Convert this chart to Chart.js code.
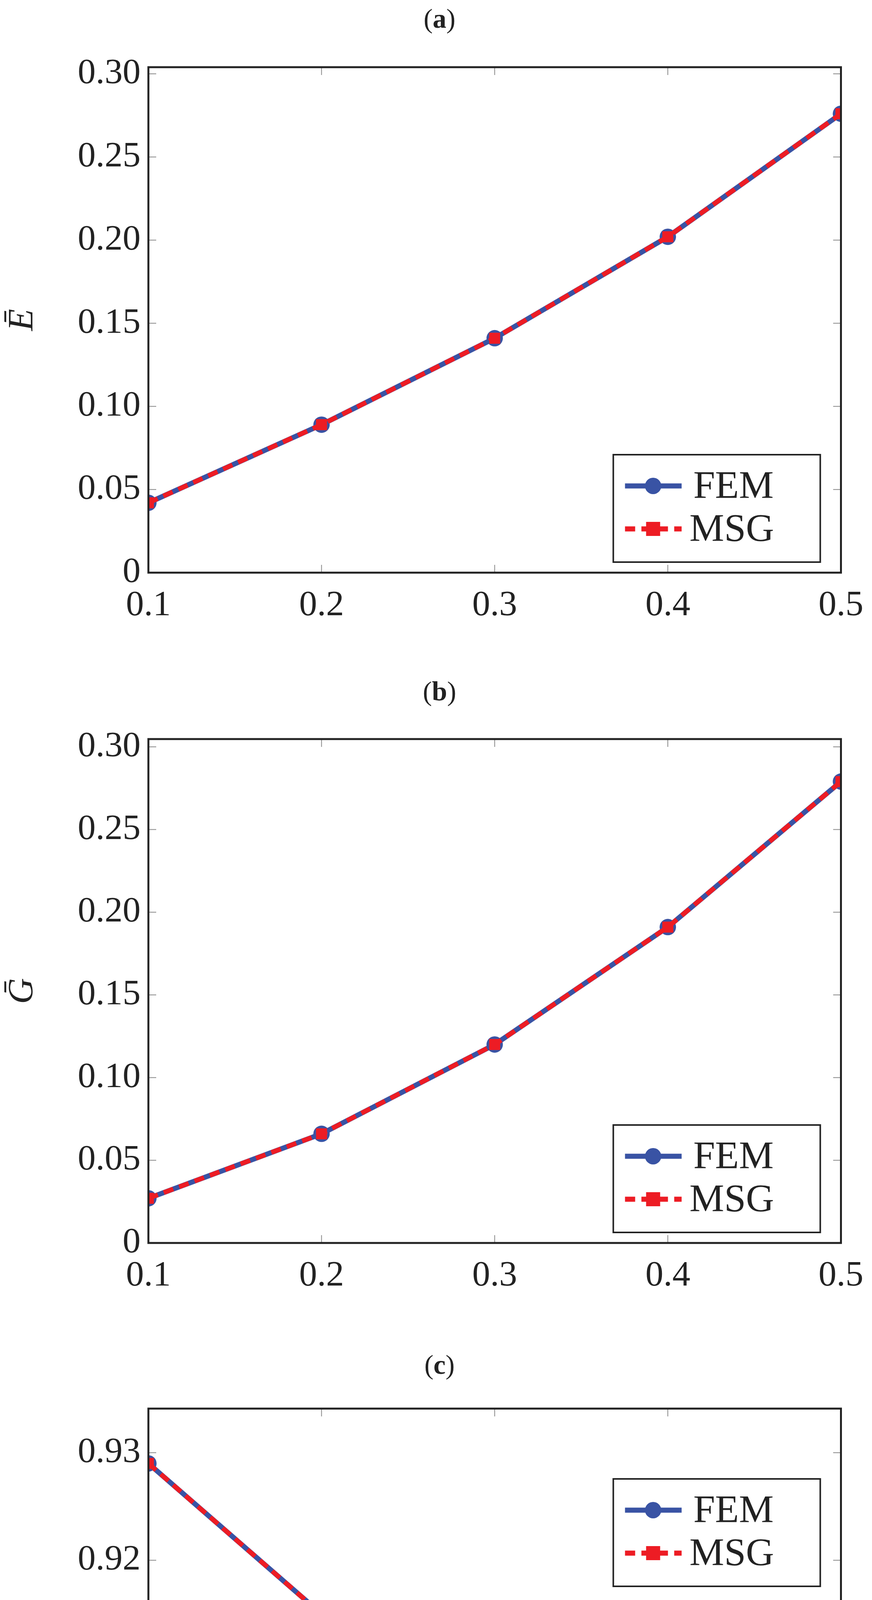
<!DOCTYPE html>
<html>
<head>
<meta charset="utf-8">
<script src="https://cdn.jsdelivr.net/npm/chart.js@4"></script>
<style>
  body { margin: 0; background: #fff; width: 2233px; height: 5146px; position: relative; overflow: hidden; }
  .panel { position: absolute; left: 0; width: 2233px; }
  .cap { position: absolute; width: 100%; left: 9px; text-align: center; font-family: "Liberation Serif", serif; font-size: 70px; color: #222; }
  canvas { position: absolute; left: 0; top: 0; }
</style>
</head>
<body>
<div class="panel" style="top:0;height:1700px"><canvas id="ca" width="2233" height="1700"></canvas><div class="cap" style="top:8px">(<b>a</b>)</div></div>
<div class="panel" style="top:1720px;height:1700px"><canvas id="cb" width="2233" height="1700"></canvas><div class="cap" style="top:10px">(<b>b</b>)</div></div>
<div class="panel" style="top:3430px;height:1716px"><canvas id="cc" width="2233" height="1716"></canvas><div class="cap" style="top:24px">(<b>c</b>)</div></div>
<script>
// values
const rho = [0.1, 0.2, 0.3, 0.4, 0.5];
const femE = [0.042, 0.089, 0.141, 0.202, 0.276];
const msgE = [0.042, 0.089, 0.141, 0.202, 0.276];
const femG = [0.027, 0.066, 0.120, 0.191, 0.279];
const msgG = [0.027, 0.066, 0.120, 0.191, 0.279];
const femV = [0.929, 0.915, 0.904, 0.896, 0.892];
const msgV = [0.929, 0.915, 0.903, 0.896, 0.891];
const seriesNames = ["FEM", "MSG"];

const BLUE = "#3953a4";
const RED = "#ed1c24";
const FONT = "Liberation Serif";

function pts(ys) {
  return rho.map((x, i) => ({ x: x, y: ys[i] }));
}

// frame, inward ticks and legend box, pgfplots style
const framePlugin = {
  id: "frame",
  afterDatasetsDraw(chart, args, opts) {
    const c = chart.ctx, a = chart.chartArea;
    const xs = chart.scales.x, ys = chart.scales.y;
    c.save();
    c.strokeStyle = "#888";
    c.lineWidth = 2;
    const t = 20;
    xs.ticks.forEach(tk => {
      const p = xs.getPixelForValue(tk.value);
      c.beginPath(); c.moveTo(p, a.bottom); c.lineTo(p, a.bottom - t); c.stroke();
      c.beginPath(); c.moveTo(p, a.top); c.lineTo(p, a.top + t); c.stroke();
    });
    ys.ticks.forEach(tk => {
      const p = ys.getPixelForValue(tk.value);
      c.beginPath(); c.moveTo(a.left, p); c.lineTo(a.left + t, p); c.stroke();
      c.beginPath(); c.moveTo(a.right, p); c.lineTo(a.right - t, p); c.stroke();
    });
    c.strokeStyle = "#222";
    c.lineWidth = 5;
    c.strokeRect(a.left, a.top, a.right - a.left, a.bottom - a.top);

    // legend
    const lw = 530, lh = 275;
    const lx = a.right - 53 - lw;
    const ly = opts.where === "top" ? a.top + 180 : a.bottom - 27 - lh;
    c.fillStyle = "#fff";
    c.fillRect(lx, ly, lw, lh);
    c.strokeStyle = "#222";
    c.lineWidth = 4;
    c.strokeRect(lx, ly, lw, lh);
    const rows = [ly + 80, ly + 190];
    c.strokeStyle = BLUE; c.lineWidth = 13; c.setLineDash([]);
    c.beginPath(); c.moveTo(lx + 30, rows[0]); c.lineTo(lx + 175, rows[0]); c.stroke();
    c.fillStyle = BLUE;
    c.beginPath(); c.arc(lx + 102, rows[0], 21, 0, Math.PI * 2); c.fill();
    c.strokeStyle = RED; c.setLineDash([26, 16]);
    c.beginPath(); c.moveTo(lx + 30, rows[1]); c.lineTo(lx + 175, rows[1]); c.stroke();
    c.setLineDash([]);
    c.fillStyle = RED;
    c.fillRect(lx + 84, rows[1] - 18, 36, 36);
    c.fillStyle = "#222";
    c.font = "100px " + FONT;
    c.textBaseline = "middle";
    c.fillText(seriesNames[0], lx + 205, rows[0] + 4);
    c.fillText(seriesNames[1], lx + 195, rows[1] + 4);
    c.restore();
  }
};

function makeChart(id, fem, msg, yOpt) {
  const canvas = document.getElementById(id);
  const H = canvas.height;
  return new Chart(canvas.getContext("2d"), {
    type: "line",
    data: {
      datasets: [
        {
          label: seriesNames[0], data: pts(fem), order: 2,
          borderColor: BLUE, backgroundColor: BLUE, borderWidth: 13,
          pointStyle: "circle", pointRadius: 21, pointBorderWidth: 0,
          fill: false, tension: 0
        },
        {
          label: seriesNames[1], data: pts(msg), order: 1,
          borderColor: RED, backgroundColor: RED, borderWidth: 12,
          borderDash: [26, 16],
          pointStyle: "rect", pointRadius: 20, pointBorderWidth: 0,
          fill: false, tension: 0
        }
      ]
    },
    options: {
      responsive: false,
      animation: false,
      devicePixelRatio: 1,
      layout: { padding: { top: yOpt.top, right: 63, left: 0, bottom: 0 } },
      plugins: {
        legend: { display: false },
        tooltip: { enabled: false },
        frame: { where: yOpt.legend }
      },
      scales: {
        x: {
          type: "linear", min: 0.1, max: 0.5,
          grid: { display: false }, border: { display: false },
          ticks: {
            stepSize: 0.1, padding: 22, color: "#222",
            font: { family: FONT, size: 92 },
            callback: v => (Math.round(v * 10) / 10).toString()
          },
          title: {
            display: !!yOpt.xTitle, text: yOpt.xTitle || "",
            color: "#222", font: { family: FONT, size: 92, style: "italic" }, padding: { top: 10 }
          },
          afterFit: s => { s.height = H - yOpt.bottom; }
        },
        y: {
          min: yOpt.min, max: yOpt.max,
          grid: { display: false }, border: { display: false },
          ticks: {
            stepSize: yOpt.step, includeBounds: false, padding: 12, color: "#222",
            font: { family: FONT, size: 92 },
            callback: yOpt.fmt
          },
          title: {
            display: true, text: yOpt.title, color: "#222",
            font: { family: FONT, size: 92, style: "italic" }, padding: { bottom: 0 }
          },
          afterFit: s => { s.width = 380; }
        }
      }
    },
    plugins: [framePlugin]
  });
}

const fmt2 = v => (Math.abs(v) < 1e-9 ? "0" : v.toFixed(2));
const fmtV = v => (Math.round(v * 100) / 100).toString();

makeChart("ca", femE, msgE, { top: 172, bottom: 1466, min: 0, max: 0.304, step: 0.05, fmt: fmt2, title: "Ē", legend: "bottom" });
makeChart("cb", femG, msgG, { top: 172, bottom: 1462, min: 0, max: 0.3047, step: 0.05, fmt: fmt2, title: "Ḡ", legend: "bottom" });
makeChart("cc", femV, msgV, { top: 176, bottom: 1473, min: 0.887, max: 0.9341, step: 0.01, fmt: fmtV, title: "v̄", legend: "top", xTitle: "ρ̄" });
</script>
</body>
</html>
